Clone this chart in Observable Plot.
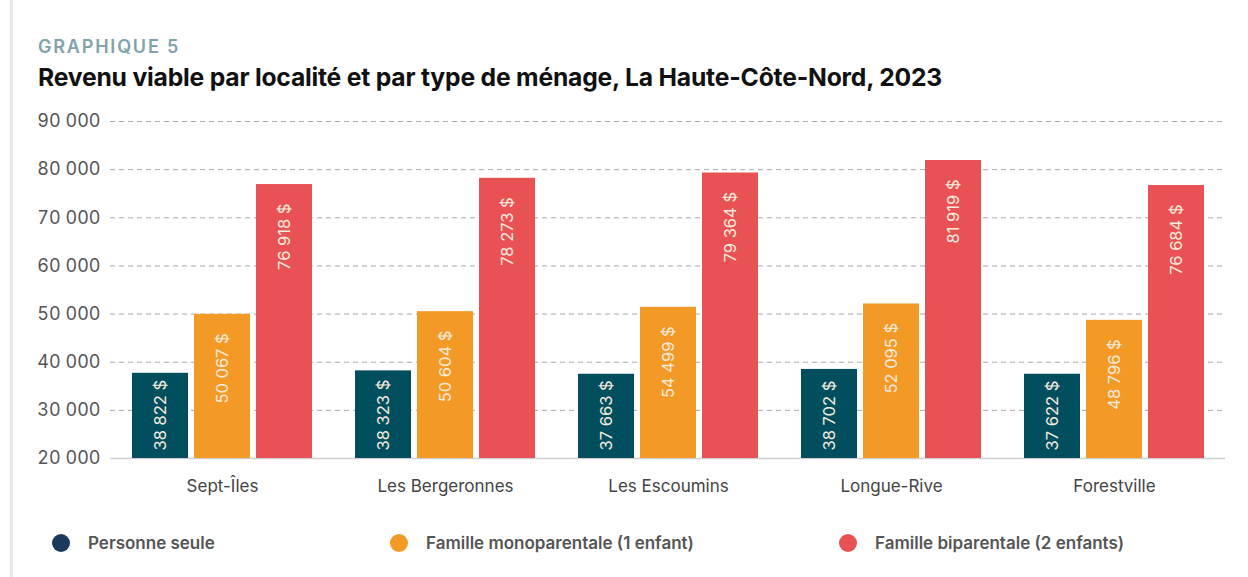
<!DOCTYPE html>
<html>
<head>
<meta charset="utf-8">
<script src="https://cdn.jsdelivr.net/npm/d3@7"></script>
<script src="https://cdn.jsdelivr.net/npm/@observablehq/plot@0.6"></script>
<style>
  html, body { margin: 0; padding: 0; background: #fff; }
  body { width: 1248px; height: 577px; position: relative; overflow: hidden; font-family: Inter, "Open Sans", sans-serif; }
  #border { position: absolute; left: 10px; top: 0; width: 3px; height: 577px; background: #e4e9eb; }
  #kicker { position: absolute; left: 38px; top: 36px; font-size: 18px; font-weight: 600; color: #7fa2ab; letter-spacing: 1.8px; }
  #title { position: absolute; left: 38px; top: 62px; font-size: 24.7px; font-weight: 700; color: #111; letter-spacing: -0.2px; }
  #chart { position: absolute; left: 0; top: 105px; }
  #legend { position: absolute; left: 0; top: 530px; width: 1248px; height: 26px; }
  .item { position: absolute; top: 0; display: flex; align-items: center; height: 26px; font-size: 17px; font-weight: 600; color: #555; }
  .dot { width: 18px; height: 18px; border-radius: 50%; margin-right: 18px; }
</style>
</head>
<body>
<div id="border"></div>
<div id="kicker">GRAPHIQUE 5</div>
<div id="title">Revenu viable par localité et par type de ménage, La Haute-Côte-Nord, 2023</div>
<div id="chart"></div>
<div id="legend"></div>
<script>
// Categories
const locations = ["Sept-Îles", "Les Bergeronnes", "Les Escoumins", "Longue-Rive", "Forestville"];
const types = ["Personne seule", "Famille monoparentale (1 enfant)", "Famille biparentale (2 enfants)"];
// Bar heights as drawn
const personneSeule = [37700, 38200, 37500, 38500, 37500];
const monoparentale = [49950, 50500, 51400, 52100, 48700];
const biparentale = [76900, 78200, 79300, 81900, 76700];
// Printed labels
const labelsPersonne = ["38 822 $", "38 323 $", "37 663 $", "38 702 $", "37 622 $"];
const labelsMono = ["50 067 $", "50 604 $", "54 499 $", "52 095 $", "48 796 $"];
const labelsBi = ["76 918 $", "78 273 $", "79 364 $", "81 919 $", "76 684 $"];
// Axis ticks
const yTicks = [20000, 30000, 40000, 50000, 60000, 70000, 80000, 90000];

const barColors = ["#014f5e", "#f39926", "#e95254"];
const legendColors = ["#1b3a5e", "#f39926", "#e95254"];

const series = [personneSeule, monoparentale, biparentale];
const labels = [labelsPersonne, labelsMono, labelsBi];
const rows = [];
types.forEach((t, i) => locations.forEach((loc, j) => rows.push({loc, type: t, ti: i, value: series[i][j], label: labels[i][j]})));

const fmt = d => d3.format(",")(d).replace(/,/g, " ");
const step = 62;

const marks = [
  Plot.ruleY(yTicks.filter(d => d > 20000), {stroke: "#a9a9a9", strokeDasharray: "5,4", strokeWidth: 1}),
  Plot.ruleY([20000], {stroke: "#cfcfcf", strokeWidth: 1.5}),
];
types.forEach((t, i) => {
  const data = rows.filter(r => r.ti === i);
  marks.push(Plot.barY(data, {x: "loc", y1: 20000, y2: "value", fill: barColors[i], insetLeft: i * step, insetRight: (2 - i) * step}));
  if (i === 0) {
    marks.push(Plot.text(data, {x: "loc", y: () => 20000, text: "label", rotate: -90, textAnchor: "start", lineAnchor: "middle", dx: (i - 1) * step, dy: -8, fill: "#f4eadc", fontSize: 16.5}));
  } else {
    marks.push(Plot.text(data, {x: "loc", y: "value", text: "label", rotate: -90, textAnchor: "end", lineAnchor: "middle", dx: (i - 1) * step, dy: 19, fill: "#f4eadc", fontSize: 16.5}));
  }
});

const chart = Plot.plot({
  width: 1248,
  height: 400,
  marginLeft: 110,
  marginRight: 23,
  marginTop: 16,
  marginBottom: 47,
  style: {fontFamily: "Inter, 'Open Sans', sans-serif", background: "transparent"},
  x: {domain: locations, paddingInner: 0.193, paddingOuter: 0.0965, align: 0.5, label: null, tickSize: 0, tickPadding: 22},
  y: {domain: [20000, 90000], ticks: yTicks, tickFormat: fmt, label: null, tickSize: 0, tickPadding: 10},
  marks: [
    ...marks,
    Plot.axisX({tickSize: 0, tickPadding: 21, fontSize: 17, color: "#444", label: null}),
    Plot.axisY(yTicks, {tickSize: 0, tickPadding: 10, tickFormat: fmt, fontSize: 18, color: "#555", label: null})
  ]
});
document.getElementById("chart").appendChild(chart);

// Legend
const legendX = [52, 390, 839];
const legend = document.getElementById("legend");
types.forEach((t, i) => {
  const item = document.createElement("div");
  item.className = "item";
  item.style.left = legendX[i] + "px";
  const dot = document.createElement("span");
  dot.className = "dot";
  dot.style.background = legendColors[i];
  const txt = document.createElement("span");
  txt.textContent = t;
  item.appendChild(dot);
  item.appendChild(txt);
  legend.appendChild(item);
});
</script>
</body>
</html>
